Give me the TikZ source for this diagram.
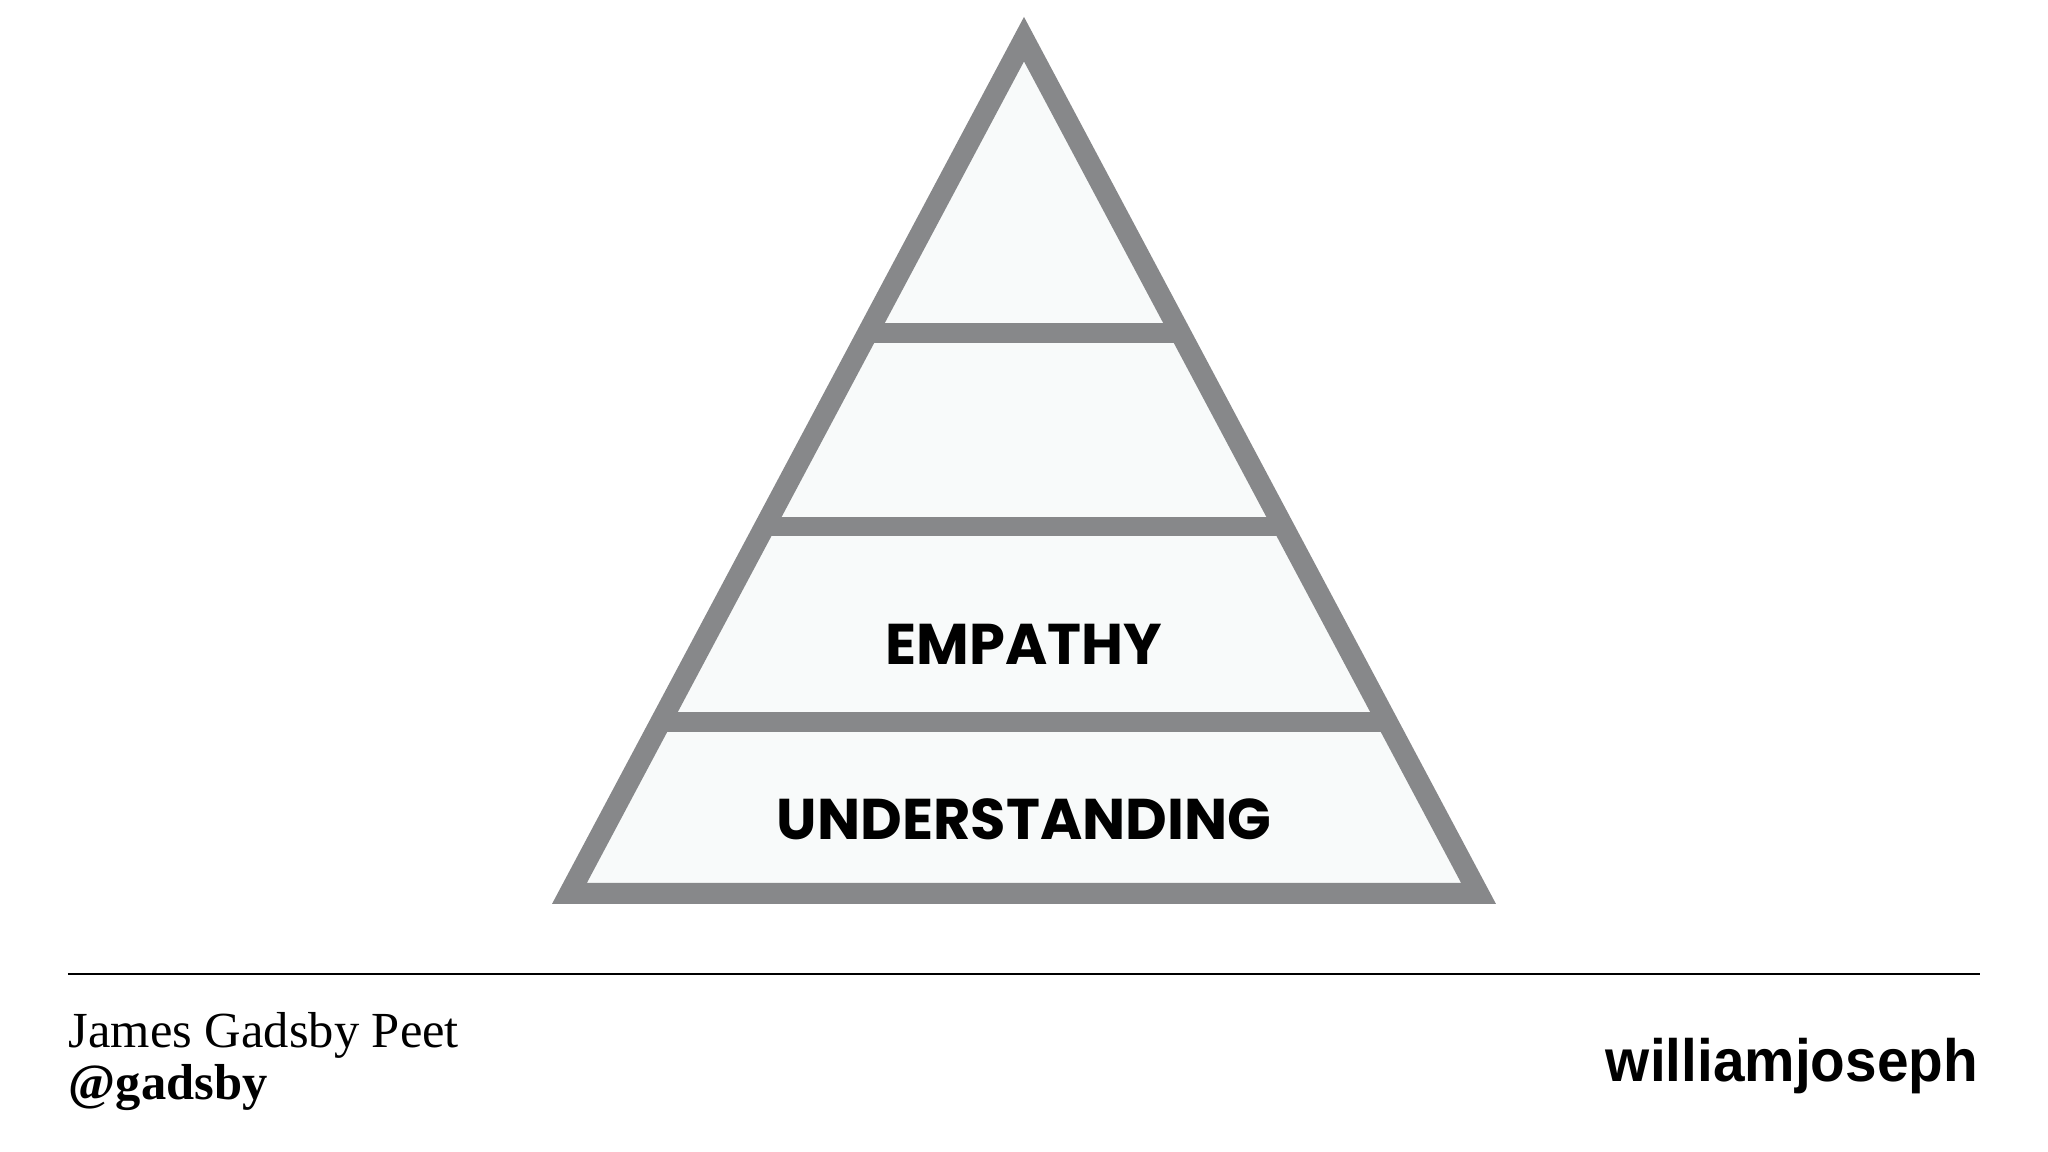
\documentclass[tikz,border=0pt]{standalone}
\usepackage{fontspec}
\setmainfont{Liberation Serif}
\newfontfamily\popp{Poppins}
\newfontfamily\heavy{Liberation Sans}
\definecolor{pgray}{HTML}{87888A}
\definecolor{pfill}{HTML}{F8FAFA}
\begin{document}
\begin{tikzpicture}[x=0.01cm,y=-0.01cm,
  edge/.style={draw=pgray,line width=0.16cm,line join=miter},
  bar/.style={draw=pgray,line width=0.15cm},
  lbl/.style={font=\popp\bfseries\fontsize{12.5}{14}\selectfont}]
\useasboundingbox (0,0) rectangle (1568,882);
\coordinate (A) at (784,30);
\coordinate (L) at (436,684);
\coordinate (R) at (1132,684);
\path[fill=pfill] (A) -- (L) -- (R) -- cycle;
\foreach \y/\n in {255/a,403/b,553/c}{
  \pgfmathsetmacro{\dx}{0.5321*(\y-30)}
  \draw[bar] ({784-\dx},\y) -- ({784+\dx},\y);
}
\draw[edge] (A) -- (L) -- (R) -- cycle;
\node[lbl] (emp) at (784,493) {EMPATHY};
\node[lbl] (und) at (784,627) {UNDERSTANDING};
\coordinate (f1) at (52,746); \coordinate (f2) at (1516,746);
\draw[line width=0.4pt] (f1) -- (f2);
\node[anchor=base west,font=\fontsize{11}{13}\selectfont,inner sep=0] (name) at (52,802) {James Gadsby Peet};
\node[anchor=base west,font=\bfseries\fontsize{11}{13}\selectfont,inner sep=0] (tw) at (52,842) {@gadsby};
\node[anchor=base east,font=\heavy\bfseries\fontsize{13}{15}\selectfont,inner sep=0,xscale=0.95] (wj) at (1515,828) {williamjoseph};
\end{tikzpicture}
\end{document}
